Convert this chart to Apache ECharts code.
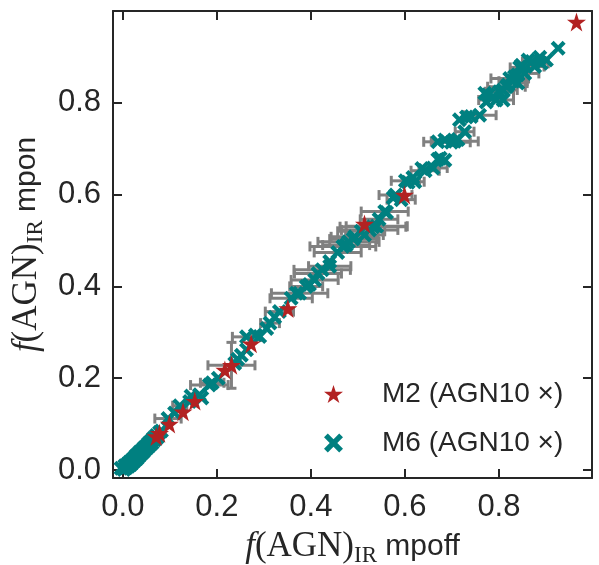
<!DOCTYPE html>
<html>
<head>
<meta charset="utf-8">
<script src="https://cdn.jsdelivr.net/npm/echarts@6/dist/echarts.min.js"></script>
<style>
html,body{margin:0;padding:0;background:#fff;}
#chart{width:599px;height:565px;}
</style>
</head>
<body>
<div id="chart"></div>
<script>
// ---- data ----
const xTicks = [0.0, 0.2, 0.4, 0.6, 0.8];
const yTicks = [0.0, 0.2, 0.4, 0.6, 0.8];
const seriesNames = ['M2 (AGN10 ×)', 'M6 (AGN10 ×)'];

// M2 points: [mpoff, mpon]
const m2Points = [
  [0.965,0.976],[0.599,0.599],[0.514,0.536],[0.351,0.352],[0.273,0.275],
  [0.231,0.228],[0.217,0.218],[0.153,0.150],[0.128,0.127],[0.099,0.100],
  [0.078,0.080],[0.071,0.073]
];
// M2 error bars: [mpoff, mpon, xerr, yerr]
const m2Errors = [[0.231,0.228,0.05,0.05]];

// M6 points: [mpoff, mpon, xerr]
const m6Points = [
  [-0.004,0.004,0],[0.002,0.001,0],[0.004,0.009,0],[0.007,0.005,0],[0.010,0.013,0],
  [0.012,0.008,0],[0.014,0.017,0],[0.017,0.012,0],[0.019,0.021,0],[0.021,0.016,0],
  [0.024,0.026,0],[0.026,0.021,0],[0.028,0.031,0],[0.030,0.025,0],[0.032,0.034,0],
  [0.034,0.030,0],[0.036,0.039,0],[0.038,0.034,0],[0.041,0.043,0],[0.043,0.039,0],
  [0.045,0.048,0],[0.047,0.044,0],[0.050,0.052,0],[0.052,0.049,0],[0.055,0.058,0],
  [0.057,0.054,0],[0.060,0.063,0],[0.062,0.059,0],[0.065,0.069,0],[0.068,0.066,0],
  [0.071,0.075,0],[0.074,0.072,0],[0.078,0.082,0],[0.082,0.085,0],
  [0.096,0.112,0.028],[0.110,0.124,0],[0.121,0.140,0.015],[0.142,0.149,0],[0.145,0.161,0],
  [0.163,0.164,0],[0.168,0.157,0],[0.184,0.185,0.04],[0.190,0.190,0.025],[0.203,0.200,0],
  [0.238,0.232,0],[0.244,0.241,0],[0.252,0.250,0],[0.263,0.262,0],[0.263,0.290,0.03],
  [0.282,0.294,0],[0.291,0.291,0],[0.306,0.308,0],[0.313,0.320,0.02],[0.323,0.333,0],
  [0.333,0.345,0.03],[0.358,0.374,0.045],[0.369,0.385,0],[0.376,0.385,0.06],[0.390,0.400,0.035],
  [0.397,0.404,0],[0.408,0.414,0.05],[0.415,0.428,0.05],[0.424,0.436,0.06],[0.440,0.444,0.045],
  [0.440,0.454,0],[0.457,0.474,0.05],[0.468,0.487,0.07],[0.475,0.490,0.05],[0.480,0.497,0.065],
  [0.490,0.503,0.05],[0.493,0.508,0.05],[0.507,0.520,0.05],[0.514,0.512,0.04],[0.525,0.523,0.06],
  [0.532,0.530,0.07],[0.540,0.531,0.065],[0.545,0.546,0.04],[0.557,0.563,0.05],[0.561,0.561,0],
  [0.575,0.593,0],[0.580,0.599,0.035],[0.592,0.589,0.03],[0.601,0.630,0.03],[0.607,0.627,0],
  [0.617,0.637,0],[0.621,0.628,0.02],[0.636,0.657,0],[0.643,0.652,0.03],[0.660,0.658,0.03],
  [0.670,0.677,0],[0.675,0.679,0],[0.685,0.675,0],[0.670,0.715,0.03],[0.685,0.719,0],
  [0.699,0.714,0.04],[0.706,0.716,0.05],[0.713,0.720,0],[0.727,0.737,0.02],[0.716,0.763,0],
  [0.731,0.769,0],[0.741,0.770,0],[0.759,0.773,0.035],[0.770,0.821,0],[0.773,0.802,0],
  [0.777,0.817,0],[0.787,0.813,0],[0.794,0.806,0.037],[0.801,0.824,0.03],[0.809,0.806,0],
  [0.809,0.828,0.03],[0.816,0.835,0.04],[0.819,0.839,0],[0.823,0.853,0.04],[0.830,0.847,0.03],
  [0.833,0.857,0],[0.840,0.843,0.02],[0.840,0.861,0],[0.844,0.877,0.02],[0.848,0.882,0],
  [0.855,0.864,0.03],[0.862,0.893,0],[0.870,0.890,0.02],[0.876,0.879,0.02],[0.887,0.899,0],
  [0.890,0.886,0.015],[0.901,0.893,0],[0.926,0.919,0]
];

// ---- styling ----
const TEXT = '#262626';
const SPINE = '#262626';
const RED = '#b22222';
const TEAL = '#008080';
const XMARK = 'path://M0,4 L4,0 L10,6 L16,0 L20,4 L14,10 L20,16 L16,20 L10,14 L4,20 L0,16 L6,10 Z';
const STAR = 'path://M10,0 L12.245,6.91 L19.511,6.91 L13.633,11.18 L15.878,18.09 L10,13.82 L4.122,18.09 L6.367,11.18 L0.489,6.91 L7.755,6.91 Z';

const errData = m6Points.filter(p => p[2] > 0).map(p => [p[0], p[1], p[2], 0])
  .concat(m2Errors);

function renderErr(params, api) {
  const x = api.value(0), y = api.value(1), xe = api.value(2), ye = api.value(3);
  const st = { stroke: '#808080', lineWidth: 3 };
  const cap = 5;
  const ch = [];
  if (xe > 0) {
    const a = api.coord([x - xe, y]), b = api.coord([x + xe, y]);
    ch.push({ type: 'line', shape: { x1: a[0], y1: a[1], x2: b[0], y2: b[1] }, style: st });
    ch.push({ type: 'line', shape: { x1: a[0], y1: a[1] - cap, x2: a[0], y2: a[1] + cap }, style: st });
    ch.push({ type: 'line', shape: { x1: b[0], y1: b[1] - cap, x2: b[0], y2: b[1] + cap }, style: st });
  }
  if (ye > 0) {
    const a = api.coord([x, y - ye]), b = api.coord([x, y + ye]);
    ch.push({ type: 'line', shape: { x1: a[0], y1: a[1], x2: b[0], y2: b[1] }, style: st });
    ch.push({ type: 'line', shape: { x1: a[0] - cap, y1: a[1], x2: a[0] + cap, y2: a[1] }, style: st });
    ch.push({ type: 'line', shape: { x1: b[0] - cap, y1: b[1], x2: b[0] + cap, y2: b[1] }, style: st });
  }
  return { type: 'group', children: ch };
}

const nameRich = {
  f: { fontFamily: 'Liberation Serif', fontStyle: 'italic', fontSize: 35, color: TEXT, lineHeight: 40, verticalAlign: 'middle' },
  s: { fontFamily: 'Liberation Serif', fontSize: 35, color: TEXT, lineHeight: 40, verticalAlign: 'middle' },
  sub: { fontFamily: 'Liberation Serif', fontSize: 23, color: TEXT, lineHeight: 40, verticalAlign: 'bottom' },
  t: { fontFamily: 'Liberation Sans', fontSize: 30, color: TEXT, lineHeight: 40, verticalAlign: 'middle' }
};

function baseAxis(extra) {
  return Object.assign({
    type: 'value',
    axisLine: { show: true, onZero: false, lineStyle: { color: SPINE, width: 2 } },
    splitLine: { show: false },
  }, extra);
}

const xMin = -0.021, xMax = 0.998, yMin = -0.0175, yMax = 1.0;

const option = {
  animation: false,
  backgroundColor: '#fff',
  grid: { left: 113, right: 7, top: 11, bottom: 87, containLabel: false, outerBoundsMode: 'none' },
  legend: {
    orient: 'vertical', left: 319, top: 374,
    itemWidth: 19, itemHeight: 19, itemGap: 19,
    data: [
      { name: seriesNames[0], icon: STAR, itemStyle: { color: RED } },
      { name: seriesNames[1], icon: XMARK, itemStyle: { color: TEAL } }
    ],
    textStyle: { fontFamily: 'Liberation Sans', fontSize: 28, color: TEXT, lineHeight: 30, padding: [0, 0, 0, 34] }
  },
  xAxis: [
    baseAxis({
      min: xMin, max: xMax, position: 'bottom',
      axisTick: { show: true, inside: true, length: 9, lineStyle: { color: SPINE, width: 2 }, customValues: xTicks },
      axisLabel: { show: true, customValues: xTicks, formatter: v => v.toFixed(1), fontFamily: 'Liberation Sans', fontSize: 31, color: TEXT, margin: 14 },
      name: '{f|f}{s|(AGN)}{sub|IR}{t| mpoff}',
      nameLocation: 'middle', nameGap: 49,
      nameTextStyle: { rich: nameRich }
    }),
    baseAxis({
      min: xMin, max: xMax, position: 'top',
      axisTick: { show: true, inside: true, length: 9, lineStyle: { color: SPINE, width: 2 }, customValues: xTicks },
      axisLabel: { show: false }
    })
  ],
  yAxis: [
    baseAxis({
      min: yMin, max: yMax, position: 'left',
      axisTick: { show: true, inside: true, length: 9, lineStyle: { color: SPINE, width: 2 }, customValues: yTicks },
      axisLabel: { show: true, customValues: yTicks, formatter: v => v.toFixed(1), fontFamily: 'Liberation Sans', fontSize: 31, color: TEXT, margin: 12 },
      name: '{f|f}{s|(AGN)}{sub|IR}{t| mpon}',
      nameLocation: 'middle', nameGap: 63, nameRotate: 90,
      nameTextStyle: { rich: nameRich }
    }),
    baseAxis({
      min: yMin, max: yMax, position: 'right',
      axisTick: { show: true, inside: true, length: 9, lineStyle: { color: SPINE, width: 2 }, customValues: yTicks },
      axisLabel: { show: false }
    })
  ],
  series: [
    {
      type: 'custom', name: 'errors', xAxisIndex: 0, yAxisIndex: 0,
      renderItem: renderErr, data: errData, encode: { x: 0, y: 1 }, z: 1, silent: true
    },
    {
      type: 'scatter', name: seriesNames[1], xAxisIndex: 0, yAxisIndex: 0,
      data: m6Points.map(p => [p[0], p[1]]),
      symbol: XMARK, symbolSize: 15, itemStyle: { color: TEAL, opacity: 1 }, z: 2
    },
    {
      type: 'scatter', name: seriesNames[0], xAxisIndex: 0, yAxisIndex: 0,
      data: m2Points,
      symbol: STAR, symbolSize: 19, itemStyle: { color: RED, opacity: 1 }, z: 3
    }
  ]
};

const chart = echarts.init(document.getElementById('chart'), null, { renderer: 'canvas' });
chart.setOption(option);
</script>
</body>
</html>
